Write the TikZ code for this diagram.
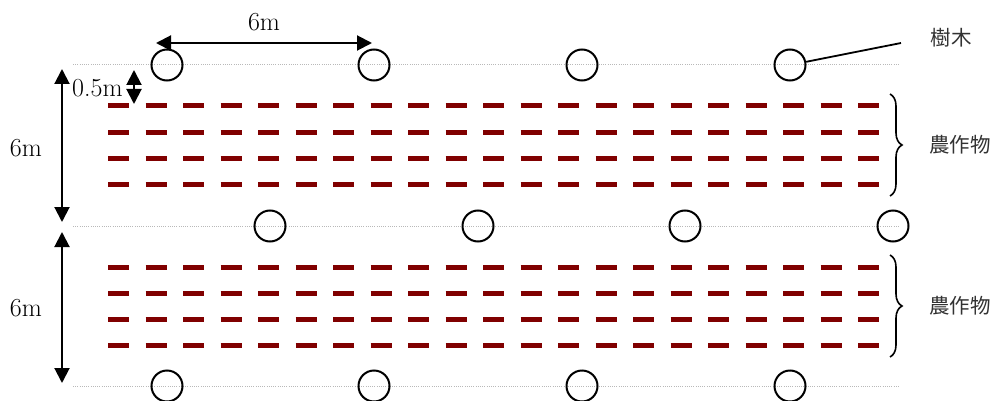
\documentclass[tikz,border=0pt]{standalone}
\usepackage{fontspec}
\newfontfamily\cjk{Noto Sans CJK JP}
\usetikzlibrary{arrows.meta,decorations.pathreplacing}
\definecolor{crop}{RGB}{128,0,0}
\definecolor{guide}{RGB}{185,185,185}
\definecolor{jtext}{RGB}{50,50,50}
\begin{document}
\begin{tikzpicture}[x=1pt,y=-1pt,
  tree/.style={draw,circle,line width=2pt,minimum size=31pt,inner sep=0pt},
  guideline/.style={guide,line width=1pt,dash pattern=on 1pt off 1.2pt},
  croprow/.style={crop,line width=5pt,dash pattern=on 21pt off 16.5pt},
  dim/.style={line width=2pt,{Triangle[length=15pt,width=15pt]}-{Triangle[length=15pt,width=15pt]}},
  lbl/.style={font=\fontsize{26}{30}\selectfont,inner sep=0pt},
  jlbl/.style={font=\fontsize{20.5}{24}\selectfont\cjk,text=jtext,inner sep=0pt},
  bracestyle/.style={line width=1.6pt,decorate,decoration={brace,amplitude=12pt}}]
\useasboundingbox (0,0) rectangle (1000,401);
% guide lines
\draw[guideline] (73,65) -- (900,65);
\draw[guideline] (73,226) -- (900,226);
\draw[guideline] (73,386) -- (900,386);
% crop rows
\foreach \y in {106,132,158,184,267,293,319,345}
  \draw[croprow] (108,\y) -- (879,\y);
% trees
\node[tree] (t1) at (167,65) {};
\node[tree] (t2) at (374,65) {};
\node[tree] (t3) at (582,65) {};
\node[tree] (t4) at (790,65) {};
\node[tree] (m1) at (270,226) {};
\node[tree] (m2) at (478,226) {};
\node[tree] (m3) at (685,226) {};
\node[tree] (m4) at (893,226) {};
\node[tree] (b1) at (167,386) {};
\node[tree] (b2) at (374,386) {};
\node[tree] (b3) at (582,386) {};
\node[tree] (b4) at (790,386) {};
% dimension arrows
\coordinate (hA) at (156,43);
\coordinate (hB) at (372,43);
\draw[dim] (hA) -- (hB);
\node[lbl] (l6top) at (264,22) {6m};
\coordinate (vA) at (62,69);
\coordinate (vB) at (62,222);
\draw[dim] (vA) -- (vB);
\node[lbl] (l6a) at (26,148) {6m};
\coordinate (vC) at (62,232);
\coordinate (vD) at (62,383);
\draw[dim] (vC) -- (vD);
\node[lbl] (l6b) at (26,308) {6m};
\coordinate (sA) at (134,70);
\coordinate (sB) at (134,104);
\draw[dim] (sA) -- (sB);
\node[lbl,anchor=west] (l05) at (72,88) {0.5m};
% tree label
\coordinate (lead) at (901,43);
\draw[line width=1.8pt] (t4) -- (lead);
\node[jlbl] (ltree) at (951,38) {樹木};
% braces
\coordinate (brA) at (890,94);
\coordinate (brB) at (890,196);
\draw[bracestyle] (brA) -- (brB);
\node[jlbl] (lcrop1) at (960,145) {農作物};
\coordinate (brC) at (890,255);
\coordinate (brD) at (890,357);
\draw[bracestyle] (brC) -- (brD);
\node[jlbl] (lcrop2) at (960,306) {農作物};
\end{tikzpicture}
\end{document}
